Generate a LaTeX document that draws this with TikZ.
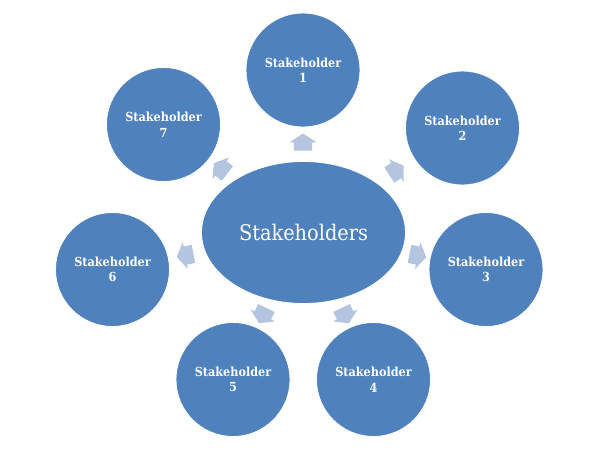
\documentclass[tikz,border=0pt]{standalone}
\usepackage{fontspec}
\setmainfont{DejaVu Serif Condensed}
\usetikzlibrary{shapes.geometric,shapes.arrows}
\definecolor{sblue}{RGB}{79,129,189}
\definecolor{sarrow}{RGB}{180,197,224}
\begin{document}
\begin{tikzpicture}[x=1pt,y=-1pt,
  shnode/.style={circle,fill=sblue,draw=white,line width=0.8pt,minimum size=114pt,inner sep=0pt,
    text=white,align=center,font=\fontsize{12.5}{15.5}\selectfont\bfseries},
  hub/.style={ellipse,fill=sblue,draw=white,line width=0.8pt,minimum width=204pt,minimum height=142pt,
    inner sep=0pt,text=white,font=\fontsize{21.5}{24}\selectfont},
  blockarrow/.style={single arrow,fill=sarrow,draw=none,inner sep=0pt,outer sep=0pt,minimum height=17pt,
    single arrow head extend=4.5pt,single arrow tip angle=115,single arrow head indent=0pt}]
\useasboundingbox (0,0) rectangle (600,456);
\node[hub] (hub) at (303.5,232.5) {Stakeholders};
\node[shnode] (s1) at (303,70) {Stakeholder\\1};
\node[shnode] (s2) at (462.5,128) {Stakeholder\\2};
\node[shnode] (s3) at (486,269.5) {Stakeholder\\3};
\node[shnode] (s4) at (373.5,379.5) {Stakeholder\\4};
\node[shnode] (s5) at (233,379.5) {Stakeholder\\5};
\node[shnode] (s6) at (112.5,269.5) {Stakeholder\\6};
\node[shnode] (s7) at (163.5,124.5) {Stakeholder\\7};
\node[blockarrow,rotate=90] (a1) at (303,145) {\rule{0pt}{18pt}};
\node[blockarrow,rotate=33.3] (a2) at (394,172) {\rule{0pt}{18pt}};
\node[blockarrow,rotate=-11.5] (a3) at (415,255) {\rule{0pt}{18pt}};
\node[blockarrow,rotate=-64.5] (a4) at (344,313) {\rule{0pt}{18pt}};
\node[blockarrow,rotate=-115.6] (a5) at (264,313) {\rule{0pt}{18pt}};
\node[blockarrow,rotate=191] (a6) at (188,255) {\rule{0pt}{18pt}};
\node[blockarrow,rotate=142] (a7) at (223,170) {\rule{0pt}{18pt}};
\end{tikzpicture}
\end{document}
